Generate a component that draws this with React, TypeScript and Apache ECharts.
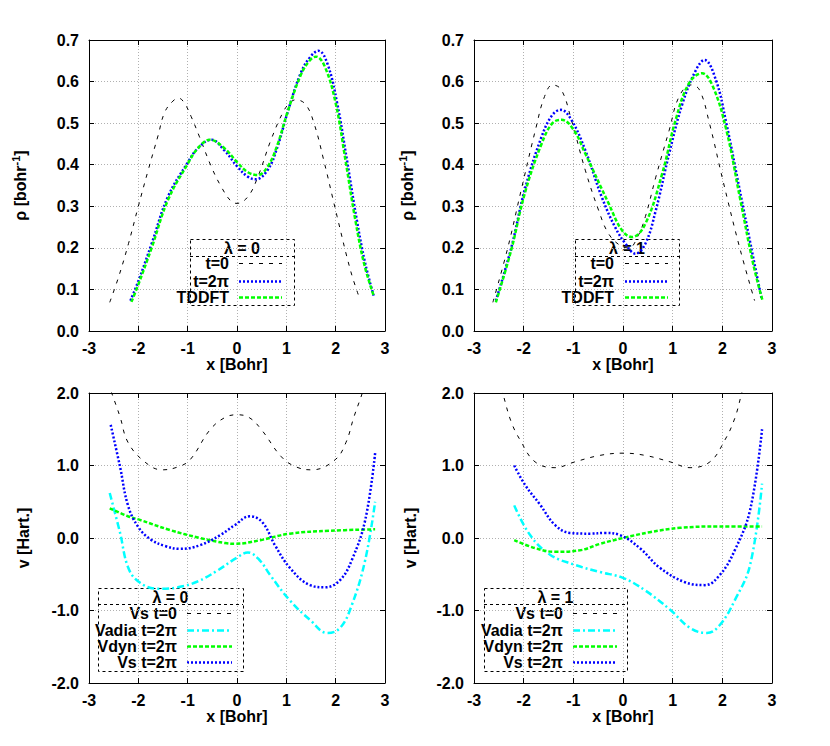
import React, { useEffect, useRef } from "react";
import * as echarts from "echarts";

// ---------- data ----------
const xTicks = [-3, -2, -1, 0, 1, 2, 3];

// top-left (lambda = 0), density
const rhoL0_t0 = [[-2.58,0.069],[-2.4,0.13],[-2.2,0.21],[-2.0,0.3],[-1.8,0.387],[-1.6,0.47],[-1.47,0.525],[-1.3,0.553],[-1.18,0.56],[-1.05,0.545],[-0.93,0.516],[-0.76,0.467],[-0.52,0.395],[-0.32,0.347],[-0.12,0.312],[0.0,0.307],[0.22,0.323],[0.42,0.37],[0.69,0.46],[0.95,0.53],[1.1,0.552],[1.19,0.556],[1.39,0.545],[1.56,0.5],[1.76,0.41],[2.03,0.275],[2.3,0.146],[2.48,0.08]];
const rhoL0_t2pi = [[-2.16,0.073],[-2.0,0.12],[-1.73,0.21],[-1.4,0.323],[-1.0,0.405],[-0.79,0.44],[-0.52,0.46],[-0.26,0.435],[0.01,0.395],[0.22,0.371],[0.38,0.365],[0.62,0.387],[0.82,0.443],[1.02,0.524],[1.29,0.62],[1.49,0.66],[1.65,0.674],[1.83,0.644],[2.03,0.548],[2.23,0.41],[2.43,0.266],[2.6,0.162],[2.77,0.085]];
const rhoL0_tddft = [[-2.14,0.07],[-2.0,0.112],[-1.73,0.2],[-1.4,0.315],[-1.0,0.402],[-0.79,0.44],[-0.55,0.46],[-0.26,0.44],[0.01,0.405],[0.22,0.382],[0.42,0.375],[0.62,0.395],[0.82,0.448],[1.02,0.525],[1.29,0.615],[1.47,0.65],[1.6,0.66],[1.78,0.636],[2.0,0.548],[2.2,0.41],[2.4,0.266],[2.58,0.16],[2.77,0.085]];

// top-right (lambda = 1), density
const rhoL1_t0 = [[-2.62,0.069],[-2.32,0.2],[-2.05,0.339],[-1.75,0.49],[-1.58,0.564],[-1.42,0.592],[-1.24,0.58],[-1.04,0.508],[-0.76,0.387],[-0.49,0.29],[-0.29,0.234],[-0.05,0.205],[0.12,0.2],[0.3,0.228],[0.45,0.275],[0.66,0.37],[0.93,0.483],[1.13,0.564],[1.37,0.592],[1.54,0.58],[1.74,0.5],[2.01,0.363],[2.35,0.2],[2.65,0.073]];
const rhoL1_t2pi = [[-2.56,0.073],[-2.25,0.2],[-1.98,0.339],[-1.64,0.467],[-1.42,0.52],[-1.25,0.532],[-1.04,0.508],[-0.76,0.435],[-0.43,0.323],[-0.16,0.25],[0.05,0.21],[0.25,0.186],[0.45,0.21],[0.66,0.29],[0.93,0.427],[1.2,0.548],[1.47,0.628],[1.64,0.652],[1.87,0.604],[2.08,0.5],[2.35,0.339],[2.62,0.178],[2.79,0.078]];
const rhoL1_tddft = [[-2.56,0.069],[-2.25,0.195],[-1.98,0.33],[-1.64,0.45],[-1.42,0.5],[-1.24,0.508],[-1.0,0.485],[-0.76,0.427],[-0.29,0.307],[-0.02,0.242],[0.18,0.226],[0.45,0.258],[0.79,0.379],[1.06,0.508],[1.33,0.596],[1.59,0.62],[1.81,0.588],[2.08,0.484],[2.35,0.323],[2.62,0.162],[2.81,0.073]];

// bottom-left (lambda = 0), potentials
const vL0_vs0 = [[-2.62,2.15],[-2.54,2.0],[-2.37,1.67],[-2.21,1.32],[-1.87,1.05],[-1.52,0.94],[-1.2,0.98],[-0.95,1.08],[-0.55,1.49],[-0.25,1.66],[0,1.7],[0.25,1.66],[0.5,1.49],[0.9,1.12],[1.2,0.98],[1.52,0.94],[1.99,1.08],[2.21,1.32],[2.37,1.67],[2.54,2.0],[2.62,2.2]];
const vL0_vadia = [[-2.58,0.62],[-2.37,0.07],[-2.21,-0.4],[-2.0,-0.6],[-1.62,-0.7],[-1.2,-0.68],[-0.8,-0.6],[-0.4,-0.45],[0.0,-0.27],[0.22,-0.2],[0.45,-0.3],[0.67,-0.51],[1.07,-0.86],[1.48,-1.13],[1.83,-1.31],[2.09,-1.24],[2.33,-0.92],[2.6,-0.3],[2.8,0.5]];
const vL0_vdyn = [[-2.58,0.41],[-2.21,0.3],[-1.97,0.25],[-1.36,0.11],[-0.75,0.0],[-0.24,-0.07],[-0.04,-0.08],[0.47,-0.03],[1.07,0.06],[1.89,0.1],[2.8,0.12]];
const vL0_vs2pi = [[-2.56,1.56],[-2.37,0.98],[-2.21,0.45],[-2.0,0.15],[-1.75,-0.02],[-1.46,-0.11],[-1.16,-0.15],[-0.75,-0.1],[-0.34,0.04],[-0.04,0.18],[0.26,0.3],[0.51,0.22],[0.77,-0.1],[1.07,-0.41],[1.48,-0.65],[1.79,-0.68],[2.09,-0.58],[2.33,-0.3],[2.6,0.25],[2.8,1.17]];

// bottom-right (lambda = 1), potentials
const vL1_vs0 = [[-2.5,2.2],[-2.41,1.97],[-2.25,1.6],[-2.07,1.35],[-1.77,1.05],[-1.37,0.97],[-0.97,1.05],[-0.46,1.14],[0,1.17],[0.44,1.14],[0.95,1.05],[1.35,0.97],[1.75,1.05],[2.05,1.35],[2.25,1.65],[2.39,2.0],[2.5,2.3]];
const vL1_vadia = [[-2.19,0.45],[-1.87,0.04],[-1.47,-0.23],[-0.97,-0.37],[-0.46,-0.47],[0,-0.55],[0.44,-0.72],[0.95,-0.99],[1.35,-1.24],[1.69,-1.31],[1.95,-1.2],[2.25,-0.86],[2.56,-0.37],[2.8,0.75]];
const vL1_vdyn = [[-2.19,-0.03],[-1.77,-0.14],[-1.37,-0.19],[-0.87,-0.17],[-0.46,-0.08],[0,0],[0.54,0.08],[1.15,0.14],[1.95,0.16],[2.8,0.16]];
const vL1_vs2pi = [[-2.19,1.0],[-1.97,0.73],[-1.67,0.46],[-1.37,0.18],[-1.07,0.07],[-0.66,0.06],[-0.36,0.07],[-0.06,0.04],[0.34,-0.14],[0.74,-0.41],[1.25,-0.61],[1.65,-0.65],[1.95,-0.51],[2.25,-0.17],[2.56,0.39],[2.8,1.5]];

const rhoLabels = ["t=0", "t=2\u03c0", "TDDFT"];
const vLabels = ["Vs t=0", "Vadia t=2\u03c0", "Vdyn t=2\u03c0", "Vs t=2\u03c0"];
const panelTitles = ["\u03bb = 0", "\u03bb = 1", "\u03bb = 0", "\u03bb = 1"];

// ---------- styles ----------
const FONT = '"Liberation Sans", Arial, Helvetica, sans-serif';
const STY = {
  black: { color: "#000000", width: 1, type: [4, 6] as number[] },
  blue: { color: "#0000ff", width: 2.5, type: [2, 2] as number[] },
  green: { color: "#00ff00", width: 2.5, type: [4, 2] as number[] },
  cyan: { color: "#00ffff", width: 2.5, type: [7, 3, 2, 3] as number[] },
};

const grids = [
  { left: 89, top: 40, width: 296, height: 291 },
  { left: 474, top: 40, width: 298, height: 291 },
  { left: 89, top: 393, width: 296, height: 290 },
  { left: 474, top: 393, width: 298, height: 290 },
];

function buildOption() {
  const xAxis: any[] = [];
  const yAxis: any[] = [];
  grids.forEach((g, i) => {
    const isTop = i < 2;
    xAxis.push({
      gridIndex: i, type: "value", min: -3, max: 3, interval: 1,
      name: "x [Bohr]", nameLocation: "middle", nameGap: 24,
      nameTextStyle: { fontFamily: FONT, fontWeight: "bold", fontSize: 16, color: "#000" },
      axisLine: { onZero: false, lineStyle: { color: "#000", width: 1 } },
      axisTick: { inside: true, length: 5, lineStyle: { color: "#000" } },
      axisLabel: { margin: 9, fontFamily: FONT, fontWeight: "bold", fontSize: 16, color: "#000",
        formatter: (v: number) => (xTicks.includes(v) ? String(v) : "") },
      splitLine: { show: true, lineStyle: { color: "#b0b0b0", type: [1, 2], width: 1 } },
    });
    xAxis.push({
      gridIndex: i, type: "value", min: -3, max: 3, interval: 1, position: "top",
      axisLine: { onZero: false, lineStyle: { color: "#000", width: 1 } },
      axisTick: { inside: true, length: 5, lineStyle: { color: "#000" } },
      axisLabel: { show: false }, splitLine: { show: false },
    });
    const ymin = isTop ? 0 : -2, ymax = isTop ? 0.7 : 2, yint = isTop ? 0.1 : 1;
    yAxis.push({
      gridIndex: i, type: "value", min: ymin, max: ymax, interval: yint,
      name: isTop ? "{a|\u03c1 [bohr}{s|-1}{a|]}" : "{a|v [Hart.]}",
      nameLocation: "middle", nameRotate: 90, nameGap: i % 2 === 0 ? 58 : 56,
      nameTextStyle: {
        rich: {
          a: { fontFamily: FONT, fontWeight: "bold", fontSize: 16, color: "#000" },
          s: { fontFamily: FONT, fontWeight: "bold", fontSize: 11, color: "#000", padding: [0, 0, 10, 0] },
        },
      },
      axisLine: { onZero: false, lineStyle: { color: "#000", width: 1 } },
      axisTick: { inside: true, length: 5, lineStyle: { color: "#000" } },
      axisLabel: { margin: 10, fontFamily: FONT, fontWeight: "bold", fontSize: 16, color: "#000",
        formatter: (v: number) => v.toFixed(1) },
      splitLine: { show: true, lineStyle: { color: "#b0b0b0", type: [1, 2], width: 1 } },
    });
    yAxis.push({
      gridIndex: i, type: "value", min: ymin, max: ymax, interval: yint, position: "right",
      axisLine: { onZero: false, lineStyle: { color: "#000", width: 1 } },
      axisTick: { inside: true, length: 5, lineStyle: { color: "#000" } },
      axisLabel: { show: false }, splitLine: { show: false },
    });
  });

  const panels: { data: number[][]; sty: any }[][] = [
    [ { data: rhoL0_t0, sty: STY.black }, { data: rhoL0_t2pi, sty: STY.blue }, { data: rhoL0_tddft, sty: STY.green } ],
    [ { data: rhoL1_t0, sty: STY.black }, { data: rhoL1_t2pi, sty: STY.blue }, { data: rhoL1_tddft, sty: STY.green } ],
    [ { data: vL0_vs0, sty: STY.black }, { data: vL0_vadia, sty: STY.cyan }, { data: vL0_vdyn, sty: STY.green }, { data: vL0_vs2pi, sty: STY.blue } ],
    [ { data: vL1_vs0, sty: STY.black }, { data: vL1_vadia, sty: STY.cyan }, { data: vL1_vdyn, sty: STY.green }, { data: vL1_vs2pi, sty: STY.blue } ],
  ];
  const series: any[] = [];
  panels.forEach((list, i) => {
    list.forEach((s) => {
      series.push({
        type: "line", xAxisIndex: i * 2, yAxisIndex: i * 2, data: s.data,
        smooth: 0.4, showSymbol: false, symbol: "none", clip: true,
        lineStyle: { color: s.sty.color, width: s.sty.width, type: s.sty.type },
        z: s.sty === STY.black ? 2 : 3,
      });
    });
  });

  // legends (gnuplot style: title box, text right-aligned, sample to the right)
  const legendLayout = [
    { box: [190, 239, 104, 66], sep: 256, textRight: 229, sx: [239, 282], rows: [263, 281, 297] },
    { box: [575, 239, 104, 66], sep: 256, textRight: 614, sx: [625, 668], rows: [263, 281, 297] },
    { box: [98, 588, 145, 83], sep: 604, textRight: 177, sx: [187, 232], rows: [613, 630, 646, 662] },
    { box: [484, 588, 143, 83], sep: 604, textRight: 563, sx: [573, 617], rows: [613, 630, 646, 662] },
  ];
  const graphic: any[] = [];
  legendLayout.forEach((L, i) => {
    const [bx, by, bw, bh] = L.box;
    graphic.push({ type: "rect", silent: true, shape: { x: bx + 0.5, y: by + 0.5, width: bw, height: bh },
      style: { fill: "none", stroke: "#000", lineWidth: 1, lineDash: [3, 3] } });
    graphic.push({ type: "line", silent: true, shape: { x1: bx, y1: L.sep + 0.5, x2: bx + bw, y2: L.sep + 0.5 },
      style: { stroke: "#000", lineWidth: 1, lineDash: [3, 3] } });
    graphic.push({ type: "text", silent: true, style: { text: panelTitles[i], x: bx + bw / 2, y: (by + L.sep) / 2 + 1,
      font: `bold 16px ${FONT}`, fill: "#000", align: "center", verticalAlign: "middle", textAlign: "center", textVerticalAlign: "middle" } });
    const labels = i < 2 ? rhoLabels : vLabels;
    const list = panels[i];
    labels.forEach((lab, k) => {
      const y = L.rows[k];
      graphic.push({ type: "text", silent: true, style: { text: lab, x: L.textRight, y,
        font: `bold 16px ${FONT}`, fill: "#000", align: "right", verticalAlign: "middle", textAlign: "right", textVerticalAlign: "middle" } });
      const st = list[k].sty;
      graphic.push({ type: "line", silent: true, shape: { x1: L.sx[0], y1: y + 0.5, x2: L.sx[1], y2: y + 0.5 },
        style: { stroke: st.color, lineWidth: st.width, lineDash: st.type } });
    });
  });

  return {
    animation: false,
    backgroundColor: "#ffffff",
    grid: grids.map((g) => ({ ...g, containLabel: false, show: false })),
    xAxis, yAxis, series, graphic,
  };
}

export default function App() {
  const ref = useRef<HTMLDivElement>(null);
  useEffect(() => {
    if (!ref.current) return;
    const chart = echarts.init(ref.current, undefined, { renderer: "svg" });
    chart.setOption(buildOption() as any);
    return () => chart.dispose();
  }, []);
  return <div ref={ref} style={{ position: "fixed", left: 0, top: 0, width: 830, height: 746, background: "#fff" }} />;
}
